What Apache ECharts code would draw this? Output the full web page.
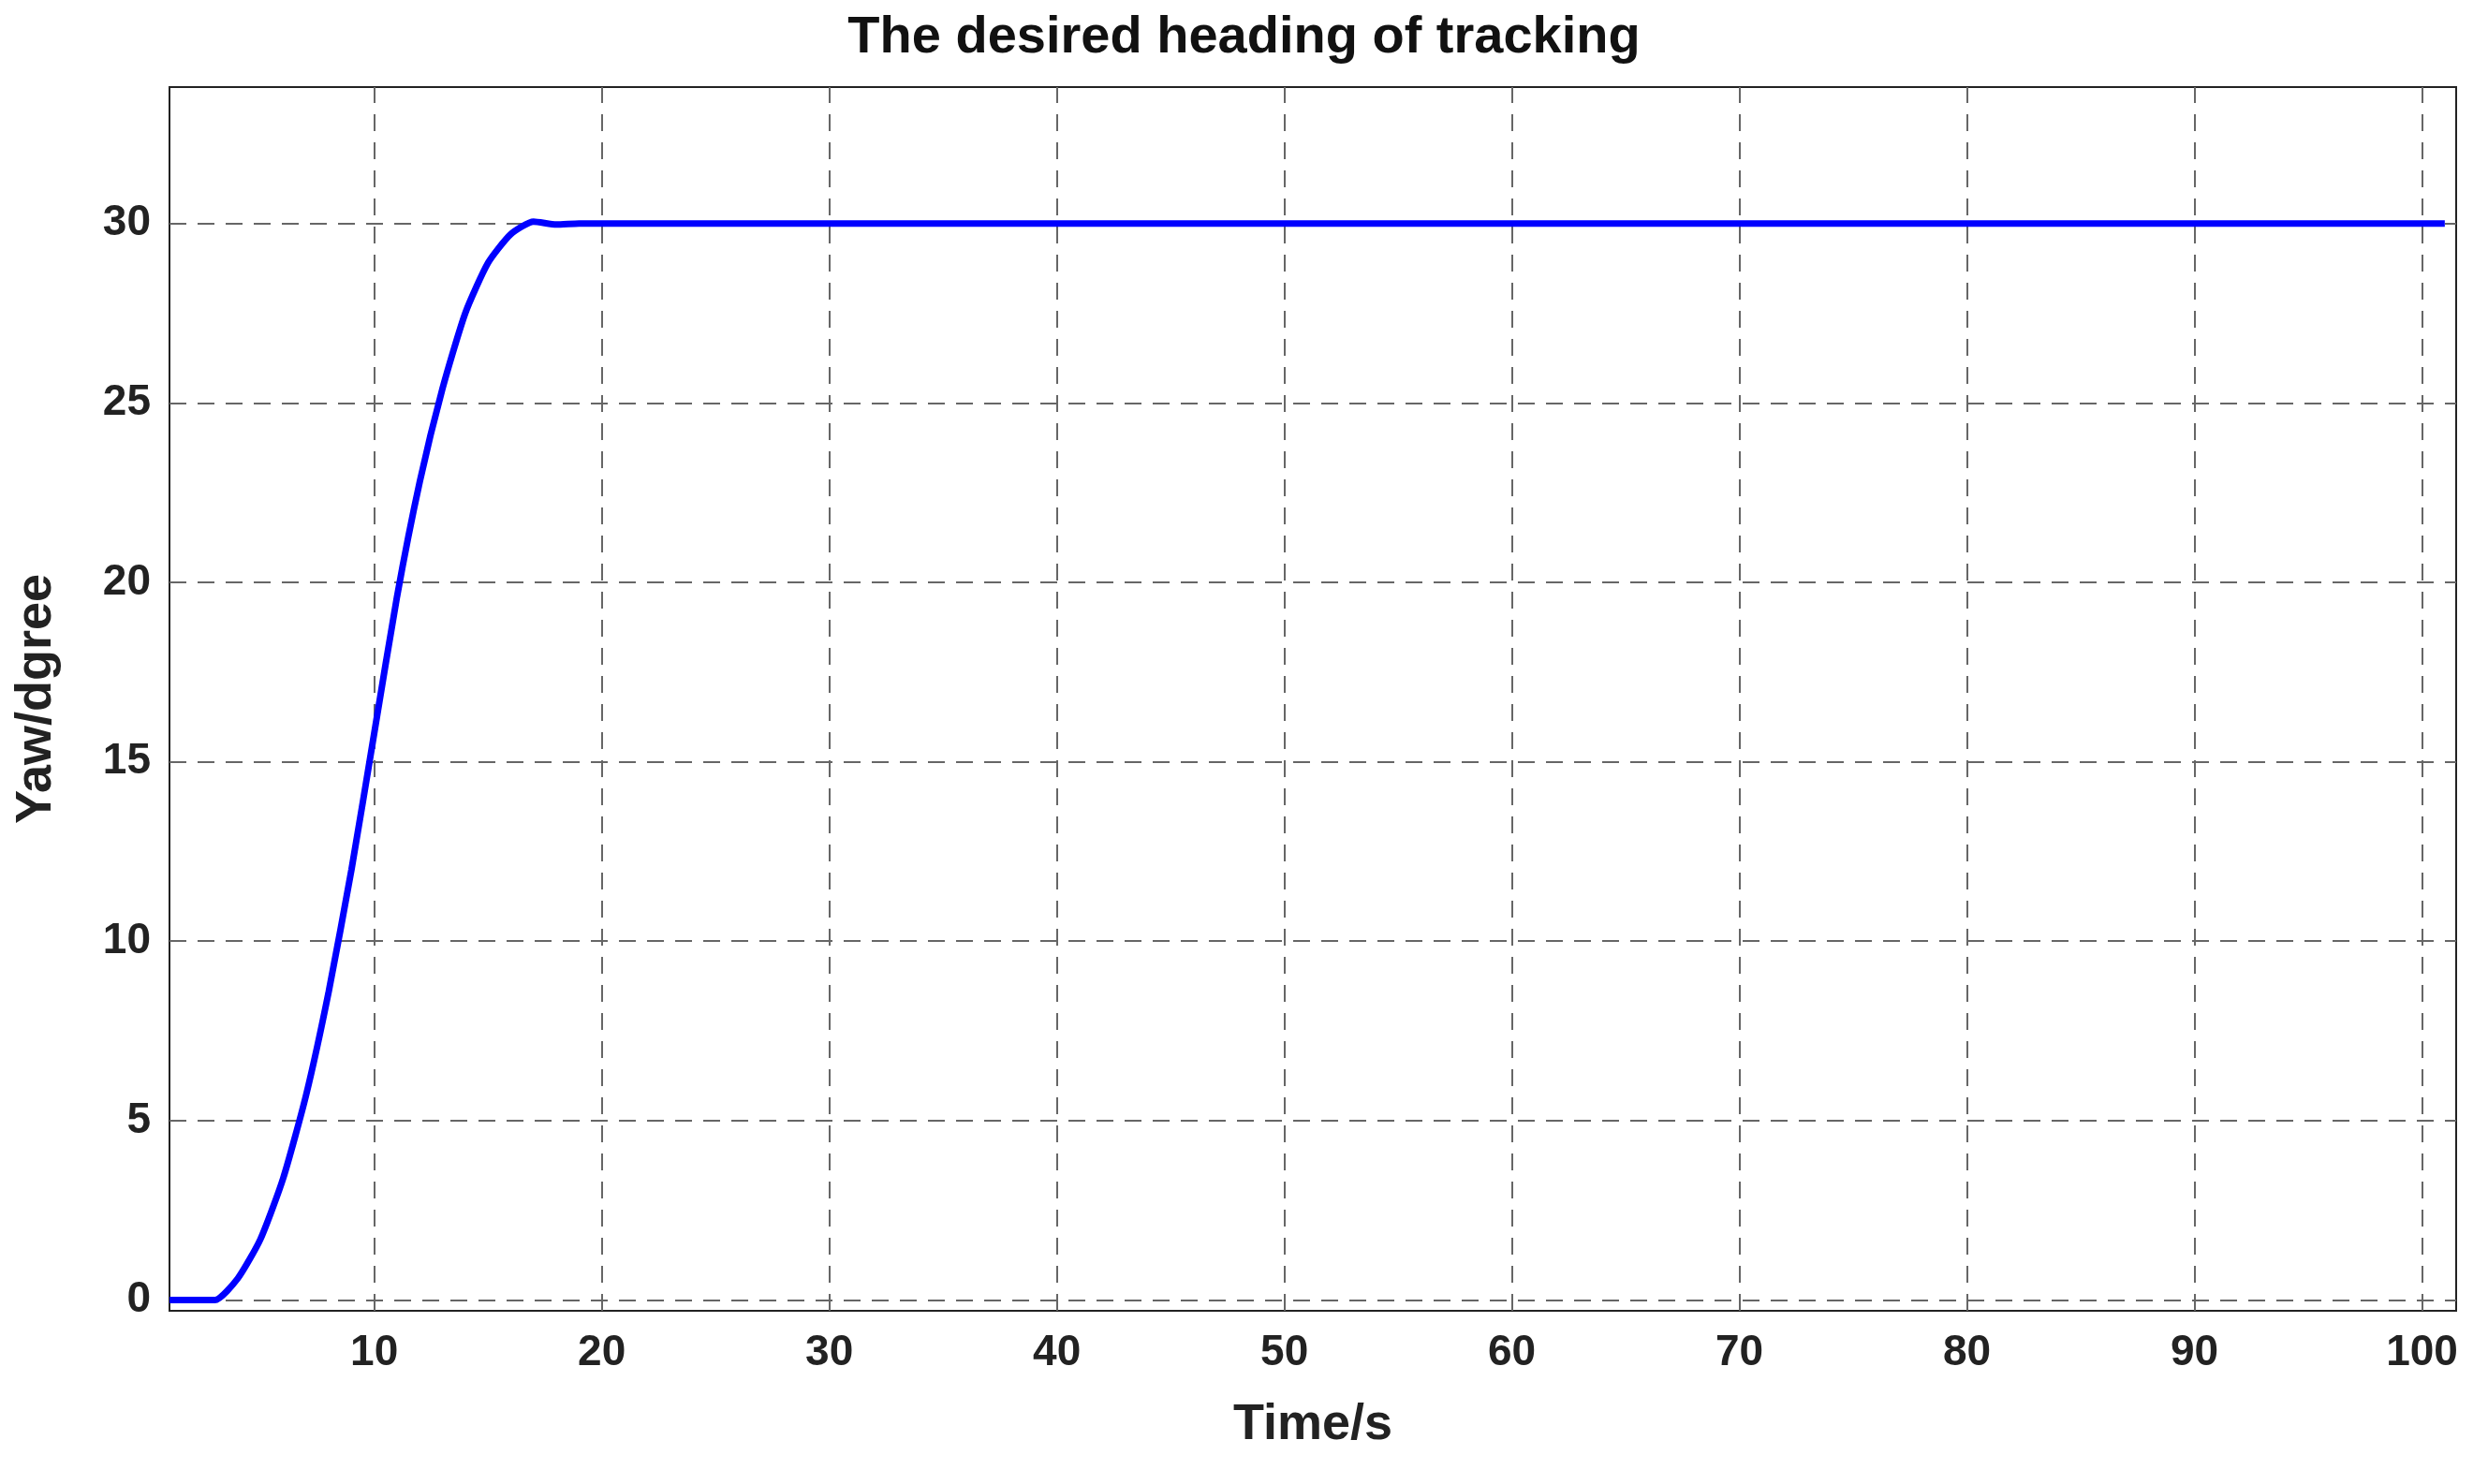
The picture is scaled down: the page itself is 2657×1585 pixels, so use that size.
<!DOCTYPE html>
<html>
<head>
<meta charset="utf-8">
<script src="https://cdn.jsdelivr.net/npm/echarts@6/dist/echarts.min.js"></script>
<style>html,body{margin:0;padding:0;background:#fff}#chart{width:2657px;height:1585px}</style>
</head>
<body>
<div id="chart"></div>
<script>
// time (s) and desired yaw (degree)
var timeS = [1,2,3,4,5,6,7,8,9,10,11,12,13,14,15,16,17,18,19,20,25,30,40,50,60,70,80,90,100,101];
var yawDeg = [0,0,0,0.6,1.7,3.4,5.7,8.6,12,15.8,19.6,22.8,25.4,27.5,28.9,29.7,30.05,29.97,30,30,30,30,30,30,30,30,30,30,30,30];
var xTicks = [10,20,30,40,50,60,70,80,90,100];
var yTicks = [0,5,10,15,20,25,30];

var chart = echarts.init(document.getElementById('chart'));
var pts = [];
for (var i = 0; i < timeS.length; i++) pts.push([timeS[i], yawDeg[i]]);
var vLines = [];
for (var j = 0; j < xTicks.length; j++) vLines.push({xAxis: xTicks[j]});
var font = 'Liberation Sans, Arial, sans-serif';
var gridLine = {type: [18, 12], color: '#666', width: 2};
chart.setOption({
    animation: false,
    title: {
        text: 'The desired heading of tracking', left: 'center', top: 8,
        textStyle: {fontFamily: font, fontSize: 56, fontWeight: 'bold', color: '#111'}
    },
    grid: {left: 181, right: 34, top: 93, bottom: 185, show: true, borderColor: '#222', borderWidth: 2},
    xAxis: {
        type: 'value', min: 1, max: 101.5, name: 'Time/s', nameLocation: 'middle', nameGap: 95,
        nameTextStyle: {fontFamily: font, fontSize: 54, fontWeight: 'bold', color: '#222'},
        axisLine: {show: false}, axisTick: {show: false},
        axisLabel: {fontFamily: font, fontSize: 46, fontWeight: 'bold', color: '#222', margin: 22,
            customValues: xTicks},
        splitLine: {show: false}
    },
    yAxis: {
        type: 'value', min: -0.3, max: 33.8, name: 'Yaw/dgree', nameLocation: 'middle', nameGap: 115,
        nameTextStyle: {fontFamily: font, fontSize: 54, fontWeight: 'bold', color: '#222'},
        axisLine: {show: false}, axisTick: {show: false},
        axisLabel: {fontFamily: font, fontSize: 46, fontWeight: 'bold', color: '#222', margin: 20,
            customValues: yTicks},
        splitLine: {show: true, showMinLine: false, showMaxLine: false, lineStyle: gridLine},
        customValues: yTicks
    },
    series: [{
        type: 'line', data: pts, showSymbol: false, smooth: 0.2, z: 3,
        lineStyle: {color: '#0000ff', width: 7},
        markLine: {
            silent: true, symbol: 'none', label: {show: false}, z: 1,
            lineStyle: gridLine, data: vLines
        }
    }]
});
</script>
</body>
</html>
